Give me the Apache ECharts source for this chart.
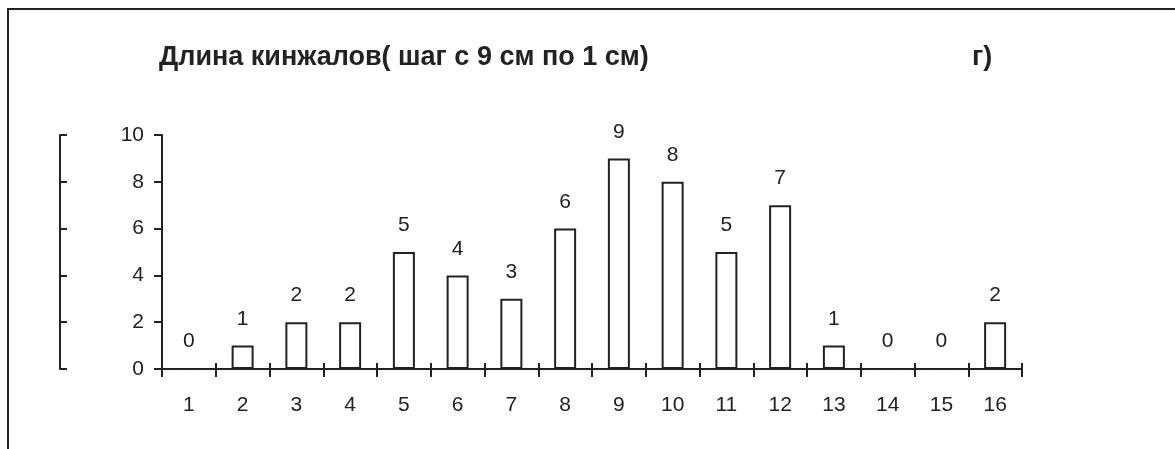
<!DOCTYPE html>
<html>
<head>
<meta charset="utf-8">
<script src="https://cdn.jsdelivr.net/npm/echarts@6/dist/echarts.min.js"></script>
<style>
  html, body { margin: 0; padding: 0; background: #fff; }
  #chart { width: 1175px; height: 449px; }
</style>
</head>
<body>
<div id="chart"></div>
<script>
// длина кинжалов, классы 1..16
var categories = ["1", "2", "3", "4", "5", "6", "7", "8", "9", "10", "11", "12", "13", "14", "15", "16"];
var counts = [0, 1, 2, 2, 5, 4, 3, 6, 9, 8, 5, 7, 1, 0, 0, 2];
var yTicks = { min: 0, max: 10, interval: 2 };

var ink = "#222";
var font = "Liberation Sans, Arial, sans-serif";
var hiddenLine = function () {
  return { show: true, lineStyle: { color: "rgba(0,0,0,0)", width: 0 } };
};

var chart = echarts.init(document.getElementById("chart"));

chart.setOption({
  backgroundColor: "#fff",
  animation: false,
  textStyle: { fontFamily: font },
  title: [
    {
      text: "Длина кинжалов( шаг с 9 см по 1 см)",
      left: 154,
      top: 39,
      textStyle: { fontSize: 27, fontWeight: "bold", color: ink, fontFamily: font }
    },
    {
      text: "г)",
      left: 967,
      top: 39,
      textStyle: { fontSize: 27, fontWeight: "bold", color: ink, fontFamily: font }
    }
  ],
  grid: [
    { left: 162, right: 153, top: 135, bottom: 80 },
    // вспомогательная сетка: её правый край совпадает с осью Y основной
    { left: 60, right: 1013, top: 135, bottom: 80 }
  ],
  xAxis: [
    {
      type: "category",
      data: categories,
      axisLine: { show: true, lineStyle: { color: ink, width: 2 } },
      axisTick: { show: true, length: 8, lineStyle: { color: ink, width: 2 } },
      axisLabel: { color: ink, fontSize: 21, margin: 26 }
    },
    {
      // внутренняя часть засечек (крест)
      type: "category",
      data: categories,
      position: "bottom",
      axisLine: hiddenLine(),
      axisTick: { show: true, inside: true, length: 6, lineStyle: { color: ink, width: 2 } },
      axisLabel: { show: false }
    },
    {
      gridIndex: 1,
      type: "value",
      show: false
    }
  ],
  yAxis: [
    {
      type: "value",
      min: yTicks.min,
      max: yTicks.max,
      interval: yTicks.interval,
      splitLine: { show: false },
      axisLine: { show: true, lineStyle: { color: ink, width: 2 } },
      axisTick: { show: true, length: 8, lineStyle: { color: ink, width: 2 } },
      axisLabel: { color: ink, fontSize: 21, margin: 18 }
    },
    {
      // правая половина засечек оси Y
      gridIndex: 1,
      type: "value",
      position: "right",
      min: yTicks.min,
      max: yTicks.max,
      interval: yTicks.interval,
      splitLine: { show: false },
      axisLine: { show: true, lineStyle: { color: ink, width: 2 } },
      axisTick: { show: true, length: 7, lineStyle: { color: ink, width: 2 } },
      axisLabel: { show: false }
    }
  ],
  series: [
    {
      type: "bar",
      data: counts,
      barWidth: 22,
      itemStyle: { color: "#fff", borderColor: ink, borderWidth: 2 },
      label: {
        show: true,
        position: "top",
        distance: 16,
        color: ink,
        fontSize: 21,
        fontFamily: font
      }
    }
  ],
  graphic: [
    {
      type: "polyline",
      shape: { points: [[8, 449], [8, 9], [1175, 9]] },
      style: { stroke: ink, lineWidth: 2, fill: null }
    }
  ]
});
</script>
</body>
</html>
